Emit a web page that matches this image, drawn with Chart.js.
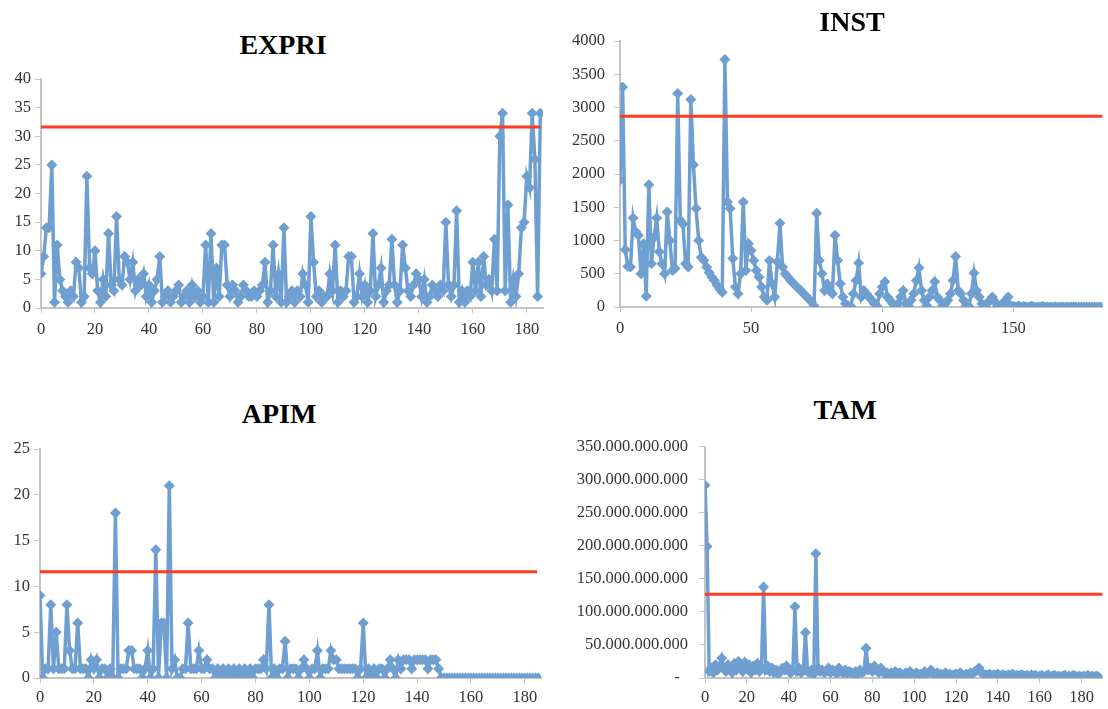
<!DOCTYPE html>
<html>
<head>
<meta charset="utf-8">
<script src="https://cdn.jsdelivr.net/npm/chart.js@4.4.1/dist/chart.umd.min.js"></script>
<style>
  body { margin: 0; background: #fff; width: 1108px; height: 709px; overflow: hidden; position: relative; }
  canvas { position: absolute; }
  .ttl { position: absolute; font: bold 28px "Liberation Serif", "Times New Roman", serif; color: #000; transform: translate(-50%, -50%); white-space: nowrap; }
</style>
</head>
<body>
<canvas id="c-expri"></canvas>
<canvas id="c-inst"></canvas>
<canvas id="c-apim"></canvas>
<canvas id="c-tam"></canvas>
<div class="ttl" style="left:283px; top:45px">EXPRI</div>
<div class="ttl" style="left:852px; top:22px">INST</div>
<div class="ttl" style="left:279px; top:414px">APIM</div>
<div class="ttl" style="left:845px; top:410px">TAM</div>
<script>
const expriValues = [
  6, 9, 14, 14, 25, 1, 11, 5, 3, 2,
  1, 3, 2, 8, 7, 1, 2, 23, 7, 6,
  10, 3, 1, 5, 2, 13, 4, 3, 16, 5,
  4, 9, 8, 5, 8, 3, 5, 4, 6, 2,
  4, 1, 3, 5, 9, 1, 2, 3, 1, 2,
  3, 4, 1, 2, 3, 1, 4, 2, 3, 1,
  2, 11, 1, 13, 1, 7, 2, 11, 11, 4,
  2, 4, 3, 1, 2, 4, 3, 2, 2, 3,
  2, 3, 4, 8, 1, 3, 11, 2, 6, 1,
  14, 1, 2, 3, 1, 3, 2, 6, 4, 1,
  16, 8, 2, 3, 1, 2, 2, 6, 3, 11,
  1, 3, 2, 3, 9, 9, 1, 2, 6, 2,
  4, 1, 3, 13, 2, 4, 7, 1, 3, 4,
  12, 4, 1, 3, 11, 7, 3, 2, 4, 6,
  5, 2, 5, 1, 2, 4, 3, 2, 4, 3,
  15, 4, 2, 4, 17, 1, 3, 1, 3, 2,
  8, 3, 8, 2, 9, 4, 5, 3, 12, 3,
  30, 34, 3, 18, 1, 5, 2, 6, 14, 15,
  23, 21, 34, 26, 2, 34
];
const instValues = [
  1910, 3310, 860, 610, 600, 1340, 1130, 1080, 500, 950,
  160, 1840, 650, 1050, 1340, 830, 650, 500, 1430, 1000,
  550, 580, 3210, 1300, 1250, 650, 600, 3120, 2140, 1480,
  1000, 750, 700, 600, 520, 450, 400, 330, 270, 220,
  3720, 1580, 1480, 730, 300, 200, 500, 1580, 550, 950,
  850, 700, 550, 450, 300, 150, 100, 700, 350, 150,
  680, 1260, 600, 500, 450, 400, 360, 320, 280, 250,
  200, 160, 120, 80, 20, 1410, 700, 500, 250, 350,
  250, 200, 1080, 700, 350, 150, 50, 20, 10, 200,
  400, 660, 150, 250, 200, 150, 100, 50, 10, 200,
  300, 380, 150, 100, 50, 10, 50, 150, 250, 50,
  20, 100, 200, 400, 590, 250, 100, 20, 150, 250,
  380, 150, 100, 20, 50, 100, 200, 400, 760, 250,
  200, 100, 20, 10, 200, 510, 250, 150, 50, 20,
  50, 100, 150, 80, 20, 10, 50, 100, 150, 20,
  10, 0, 20, 0, 10, 0, 0, 15, 0, 0,
  0, 10, 0, 0, 0, 0, 5, 0, 0, 0,
  0, 0, 0, 5, 0, 0, 0, 0, 0, 0,
  0, 0, 0, 0, 0
];
const apimValues = [
  9, 0, 1, 1, 8, 1, 5, 1, 1, 1,
  8, 3, 1, 1, 6, 1, 1, 1, 0, 2,
  1, 2, 0, 1, 1, 0, 1, 0, 18, 0,
  1, 1, 1, 3, 3, 1, 1, 1, 0, 1,
  3, 0, 1, 14, 0, 6, 6, 0, 21, 1,
  2, 0, 0, 1, 1, 6, 1, 1, 1, 3,
  1, 1, 2, 1, 1, 0, 1, 0, 1, 0,
  1, 0, 1, 0, 1, 0, 1, 0, 1, 0,
  1, 1, 1, 2, 1, 8, 0, 1, 0, 1,
  1, 4, 0, 1, 1, 1, 0, 1, 2, 1,
  0, 1, 1, 3, 0, 1, 1, 1, 3, 2,
  2, 1, 1, 1, 1, 1, 1, 1, 0, 1,
  6, 0, 1, 0, 1, 0, 1, 1, 0, 1,
  2, 1, 0, 2, 1, 2, 2, 2, 1, 2,
  2, 2, 2, 2, 1, 2, 2, 2, 1, 0,
  0, 0, 0, 0, 0, 0, 0, 0, 0, 0,
  0, 0, 0, 0, 0, 0, 0, 0, 0, 0,
  0, 0, 0, 0, 0, 0, 0, 0, 0, 0,
  0, 0, 0, 0, 0, 0
];
// TAM in billions
const tamBillions = [
  292, 199, 10, 15, 8, 20, 12, 18, 30, 15,
  10, 20, 15, 8, 22, 12, 25, 18, 10, 24,
  15, 20, 8, 18, 12, 22, 10, 15, 138, 12,
  18, 10, 15, 8, 12, 6, 10, 15, 12, 18,
  10, 8, 12, 108, 10, 15, 8, 12, 69, 10,
  8, 12, 6, 188, 15, 10, 12, 8, 10, 15,
  8, 12, 10, 6, 15, 10, 8, 12, 6, 10,
  8, 5, 10, 6, 12, 8, 10, 45, 12, 15,
  10, 18, 12, 8, 15, 10, 6, 8, 5, 8,
  6, 10, 5, 8, 6, 4, 8, 5, 10, 6,
  5, 8, 4, 6, 5, 10, 6, 8, 12, 6,
  4, 8, 5, 6, 4, 8, 5, 6, 4, 5,
  6, 4, 8, 5, 4, 6, 5, 8, 6, 10,
  12, 15, 8, 6, 5, 4, 6, 3, 5, 4,
  6, 3, 5, 4, 3, 5, 4, 6, 3, 4,
  3, 5, 4, 3, 4, 2, 5, 3, 4, 2,
  3, 4, 2, 3, 5, 2, 3, 4, 2, 3,
  2, 3, 4, 2, 3, 2, 4, 3, 2, 3,
  2, 3, 2, 4, 2, 3, 2, 3, 2
];
// red reference levels
const expriLimit = 31.6;
const instLimit = 2870;
const apimLimit = 11.6;
const tamLimit = 127e9;

const BLUE = '#6f9fd0';
const RED = '#ff3b1f';
const AXIS = '#c4c4c4';
const tickFont = { family: '"Liberation Serif", "Times New Roman", serif', size: 16.5 };

function dots(v) {
  return String(Math.round(v)).replace(/\B(?=(\d{3})+(?!\d))/g, '.');
}

function panel(id, box, plot, opt) {
  const cv = document.getElementById(id);
  cv.width = box.w; cv.height = box.h;
  cv.style.left = box.x + 'px'; cv.style.top = box.y + 'px';
  cv.style.width = box.w + 'px'; cv.style.height = box.h + 'px';

  const points = opt.values.map((v, i) => ({ x: i, y: v }));
  const xStep = opt.xStep;

  new Chart(cv, {
    type: 'line',
    data: {
      datasets: [
        {
          data: [{ x: 0, y: opt.limit }, { x: opt.limitEnd, y: opt.limit }],
          borderColor: RED, borderWidth: 3, pointRadius: 0
        },
        {
          data: points,
          borderColor: BLUE, backgroundColor: BLUE, borderWidth: 3.5,
          pointStyle: 'rectRot', pointRadius: 5.5, pointBorderWidth: 0,
          tension: 0
        }
      ]
    },
    options: {
      responsive: false,
      animation: false,
      events: [],
      layout: {
        padding: {
          left: plot.L - box.x - opt.yw,
          top: plot.T - box.y,
          right: box.x + box.w - plot.R,
          bottom: box.y + box.h - plot.B - opt.xh
        }
      },
      plugins: { legend: { display: false }, tooltip: { enabled: false } },
      scales: {
        x: {
          type: 'linear', min: 0, max: opt.xMax,
          afterFit: s => { s.height = opt.xh; },
          afterBuildTicks: s => {
            const t = [];
            for (let v = 0; v <= opt.xMax; v += xStep) t.push({ value: v });
            s.ticks = t;
          },
          ticks: { stepSize: xStep, font: tickFont, color: '#333', padding: opt.xPad, maxRotation: 0, autoSkip: false },
          grid: { drawOnChartArea: false, drawTicks: true, tickLength: 5, color: AXIS },
          border: { color: AXIS, width: 2 }
        },
        y: {
          min: 0, max: opt.yMax,
          afterFit: s => { s.width = opt.yw; },
          ticks: { stepSize: opt.yStep, font: tickFont, color: '#333', padding: opt.yPad, callback: opt.yFmt || (v => v) },
          grid: { drawOnChartArea: false, drawTicks: true, tickLength: 6, color: AXIS },
          border: { color: AXIS, width: 2 }
        }
      }
    }
  });
}

panel('c-expri', { x: 0, y: 62, w: 560, h: 290 }, { L: 41, T: 79, R: 543, B: 308 },
  { values: expriValues, limit: expriLimit, limitEnd: 185, xMax: 186, xStep: 20,
    yMax: 40, yStep: 5, yw: 38, xh: 32, yPad: 4, xPad: 7 });

panel('c-inst', { x: 560, y: 22, w: 548, h: 330 }, { L: 620, T: 41, R: 1108, B: 307 },
  { values: instValues, limit: instLimit, limitEnd: 184, xMax: 184, xStep: 50,
    yMax: 4000, yStep: 500, yw: 56, xh: 32, yPad: 9, xPad: 7 });

panel('c-apim', { x: 0, y: 432, w: 560, h: 277 }, { L: 40, T: 449, R: 541, B: 678 },
  { values: apimValues, limit: apimLimit, limitEnd: 184.5, xMax: 186, xStep: 20,
    yMax: 25, yStep: 5, yw: 38, xh: 28, yPad: 4, xPad: 5 });

panel('c-tam', { x: 560, y: 426, w: 548, h: 283 }, { L: 705, T: 441, R: 1104, B: 678 },
  { values: tamBillions.map(v => v * 1e9), limit: tamLimit, limitEnd: 190, xMax: 190, xStep: 20,
    yMax: 350e9, yStep: 50e9, yw: 142, xh: 28, yPad: 11, xPad: 5,
    yFmt: v => (v === 0 ? '-  ' : dots(v)) });
</script>
</body>
</html>
